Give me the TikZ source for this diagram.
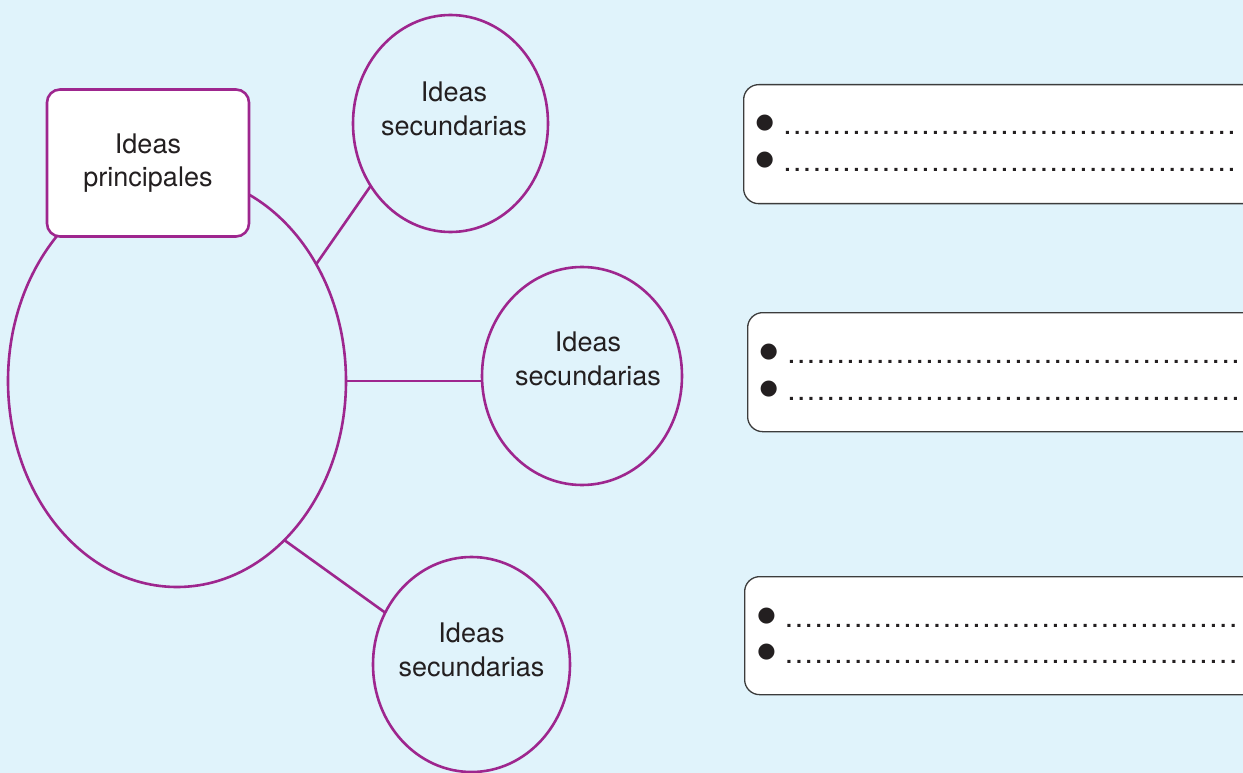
\documentclass[tikz,border=0pt]{standalone}
\usepackage{fontspec}
\setmainfont{TeX Gyre Heros}
\newfontfamily\symfont{DejaVu Sans}
\usetikzlibrary{shapes.geometric}
\definecolor{bg}{HTML}{E0F3FB}
\definecolor{plum}{RGB}{158,38,142}
\definecolor{ink}{HTML}{231F20}
\definecolor{frame}{HTML}{3C3C3C}
\newcommand\dotrow{\hbox to 454.1pt{\leaders\hbox to 9.87pt{\hss.\hss}\hfil}}
\newcommand\rowtext{{\symfont\fontsize{21}{21}\selectfont\makebox[22pt][l]{\hspace{-4.8pt}\raisebox{6.2pt}{●}}}{\fontsize{30}{30}\selectfont\dotrow}}
\begin{document}
\begin{tikzpicture}[x=1pt,y=-1pt,
  bubble/.style={ellipse,draw=plum,line width=2.6pt,inner sep=0pt,outer sep=0pt},
  link/.style={draw=plum,line width=2.6pt},
  txt/.style={text=ink,font=\fontsize{27}{34}\selectfont,align=center,inner sep=0pt},
  mainbox/.style={rectangle,rounded corners=13pt,draw=plum,line width=2.6pt,fill=white,
    minimum width=202pt,minimum height=147pt,outer sep=0pt,text=ink,
    font=\fontsize{27}{33}\selectfont,align=center},
  notebox/.style={rectangle,draw=frame,line width=1.3pt,fill=white,rounded corners=15pt,
    anchor=north west,minimum width=530pt,minimum height=119pt,inner sep=0pt},
  row/.style={anchor=base west,inner sep=0pt,text=ink}]
\fill[bg] (0,0) rectangle (1243,773);
\useasboundingbox (0,0) rectangle (1243,773);
\clip (0,0) rectangle (1243,773);
% big ellipse
\node[bubble,minimum width=338pt,minimum height=412pt] (main) at (177,381) {};
% secondary ellipses
\node[bubble,minimum width=195pt,minimum height=217pt] (s1) at (450.5,123.5) {};
\node[bubble,minimum width=200pt,minimum height=218pt] (s2) at (582,376) {};
\node[bubble,minimum width=197pt,minimum height=215pt] (s3) at (471.5,664.5) {};
\node[txt] (t1) at (454,109.3) {Ideas\\secundarias};
\node[txt] (t2) at (588,359.3) {Ideas\\secundarias};
\node[txt] (t3) at (471.5,650.3) {Ideas\\secundarias};
% connectors
\draw[link] (main.40.4) -- (s1.218.8);
\draw[link] (main.0.6) -- (main.0.6 -| s2.west);
\draw[link] (main.304.4) -- (s3.149.8);
% main box
\node[mainbox] (ip) at (148,163) {Ideas\\principales};
% note boxes
\node[notebox] (n1) at (743,84) {};
\node[notebox,minimum height=119pt] (n2) at (747,312) {};
\node[notebox,minimum height=118pt] (n3) at (744,576) {};
\node[row] (r1a) at (760.3,134.4) {\rowtext};
\node[row] (r1b) at (760.3,171.4) {\rowtext};
\node[row] (r2a) at (764.3,363.4) {\rowtext};
\node[row] (r2b) at (764.3,400.4) {\rowtext};
\node[row] (r3a) at (762,627.4) {\rowtext};
\node[row] (r3b) at (762,663.4) {\rowtext};
\end{tikzpicture}
\end{document}
